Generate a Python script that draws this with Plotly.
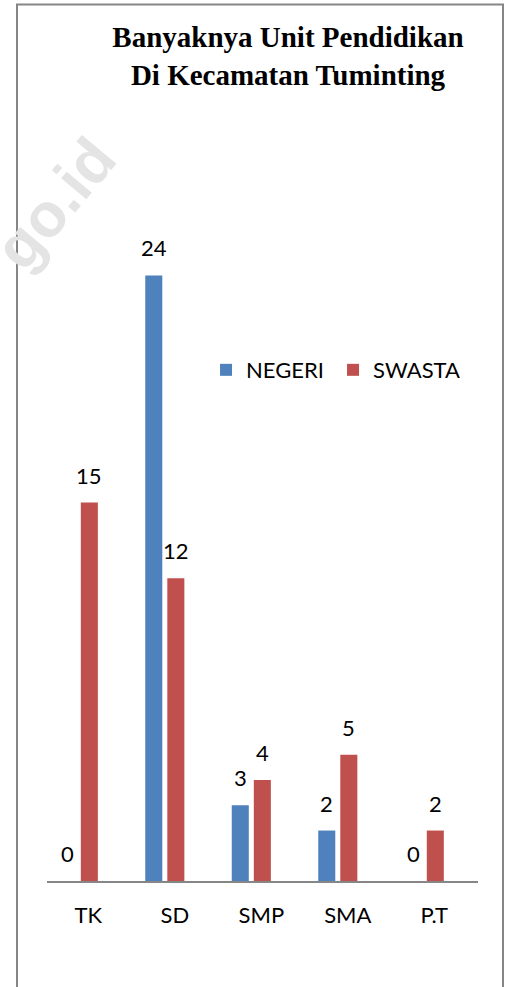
import plotly.graph_objects as go

# data
categories = ['TK', 'SD', 'SMP', 'SMA', 'P.T']
negeri = [0, 24, 3, 2, 0]
swasta = [15, 12, 4, 5, 2]

blue = '#4F81BD'
red = '#C0504D'
label_font = dict(family='Lato', size=22, color='black')

fig = go.Figure()
fig.add_trace(go.Bar(x=categories, y=negeri, name='NEGERI', marker=dict(color=blue, line=dict(width=0))))
fig.add_trace(go.Bar(x=categories, y=swasta, name='SWASTA', marker=dict(color=red, line=dict(width=0))))

# data labels above each bar (excel style, sits a bit higher than plotly's outside text)
for vals, shift in [(negeri, -11), (swasta, 11)]:
    for c, v in zip(categories, vals):
        fig.add_annotation(x=c, y=v, text=str(v), showarrow=False, xshift=shift, yshift=12,
                           yanchor='bottom', font=label_font)

# faint watermark
fig.add_annotation(x=0.018, y=0.895, xref='paper', yref='paper', text='<b>go.id</b>', showarrow=False,
                   xanchor='center', yanchor='middle', textangle=-50,
                   font=dict(family='Liberation Sans', size=62, color='#e4e4e4'))

# chart frame
fig.add_shape(type='rect', xref='paper', yref='paper', x0=-0.0696, x1=1.058, y0=-0.16, y1=1.158,
              line=dict(color='#868686', width=2), layer='above')

fig.update_layout(
    width=510, height=987,
    margin=dict(l=47, r=32, t=124, b=106),
    paper_bgcolor='white', plot_bgcolor='white',
    barmode='group', bargap=0.49, bargroupgap=0.227,
    title=dict(text='<b>Banyaknya Unit Pendidikan<br>Di Kecamatan Tuminting</b>',
               x=288 / 510, xanchor='center', y=1 - 47 / 987, yanchor='top',
               font=dict(family='Liberation Serif', size=29, color='black')),
    legend=dict(orientation='h', x=0.369, y=0.675, xanchor='left', yanchor='middle',
                font=label_font, bgcolor='rgba(0,0,0,0)', entrywidth=82),
    xaxis=dict(range=[-0.362, 4.621], showline=True, linecolor='#868686', linewidth=2,
               ticks='', showgrid=False, tickfont=label_font, ticklabelshift=10,
               ticklabelstandoff=14),
    yaxis=dict(range=[0, 30], visible=False, showgrid=False),
    showlegend=True,
)

# page has a default body margin, drop it so the figure sits at the window corner
fig.write_html('out.html', config={'displayModeBar': False},
               post_script="document.body.style.margin='0';")
